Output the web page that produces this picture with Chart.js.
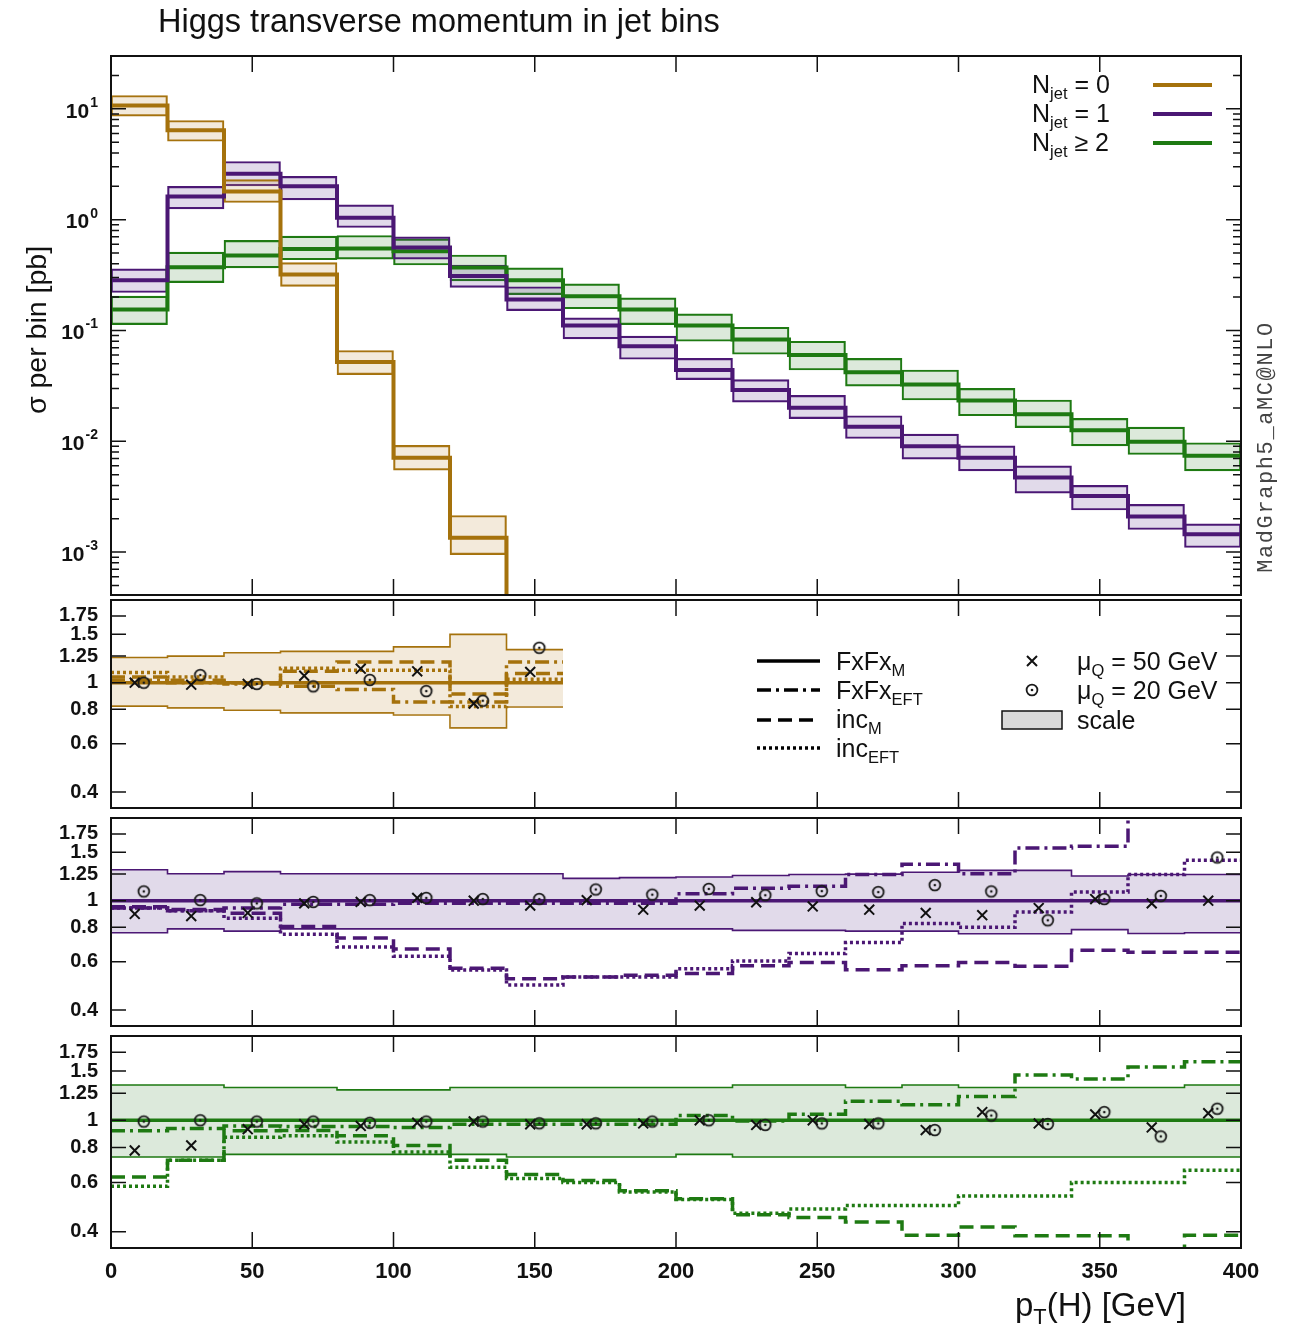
<!DOCTYPE html>
<html lang="en">
<head>
<meta charset="UTF-8">
<title>Higgs transverse momentum in jet bins</title>
<script src="https://cdn.jsdelivr.net/npm/chart.js@4.4.1/dist/chart.umd.min.js"></script>
<style>
  body { margin: 0; background: #fff; }
  #page { position: relative; width: 1298px; height: 1343px; overflow: hidden;
          font-family: "Liberation Sans", Arial, sans-serif; color: #111; }
  #page canvas { position: absolute; left: 0; }
  .lbl { position: absolute; white-space: nowrap; line-height: 1; }
  .lbl sub { font-size: 0.66em; vertical-align: -0.38em; line-height: 0; }
  #keys { position: absolute; left: 0; top: 0; }
</style>
</head>
<body>
<div id="page">
  <canvas id="panelTop" width="1298" height="579" style="top:36px"></canvas>
  <canvas id="panelJ0" width="1298" height="258" style="top:575px"></canvas>
  <canvas id="panelJ1" width="1298" height="258" style="top:793px"></canvas>
  <canvas id="panelJ2" width="1298" height="297" style="top:1011px"></canvas>
  <svg id="keys" width="1298" height="1343"></svg>

  <div class="lbl" style="left:158px; top:5px; font-size:32.5px">Higgs transverse momentum in jet bins</div>
  <div class="lbl" style="left:36px; top:330px; font-size:28.5px; transform:translate(-50%,-50%) rotate(-90deg)">σ per bin [pb]</div>
  <div class="lbl" style="left:1015px; top:1288px; font-size:33px">p<sub>T</sub>(H) [GeV]</div>
  <div class="lbl" style="left:1267px; top:447px; font-family:'Liberation Mono',monospace; font-size:22px; letter-spacing:1.6px; color:#444; transform:translate(-50%,-50%) rotate(-90deg)">MadGraph5_aMC@NLO</div>

  <!-- jet multiplicity key -->
  <div class="lbl" style="left:1032px; top:72px; font-size:25px">N<sub>jet</sub> = 0</div>
  <div class="lbl" style="left:1032px; top:101px; font-size:25px">N<sub>jet</sub> = 1</div>
  <div class="lbl" style="left:1032px; top:130px; font-size:25px">N<sub>jet</sub> ≥ 2</div>

  <!-- ratio key -->
  <div class="lbl" style="left:836px; top:649px; font-size:25px">FxFx<sub>M</sub></div>
  <div class="lbl" style="left:836px; top:678px; font-size:25px">FxFx<sub>EFT</sub></div>
  <div class="lbl" style="left:836px; top:707px; font-size:25px">inc<sub>M</sub></div>
  <div class="lbl" style="left:836px; top:736px; font-size:25px">inc<sub>EFT</sub></div>
  <div class="lbl" style="left:1077px; top:649px; font-size:25px">μ<sub>Q</sub> = 50 GeV</div>
  <div class="lbl" style="left:1077px; top:678px; font-size:25px">μ<sub>Q</sub> = 20 GeV</div>
  <div class="lbl" style="left:1077px; top:708px; font-size:25px">scale</div>
</div>

<script>
// pT(H) bins [GeV]
const binEdges = [0, 20, 40, 60, 80, 100, 120, 140, 160, 180, 200, 220, 240, 260, 280, 300, 320, 340, 360, 380, 400];
const xTickValues = [0, 50, 100, 150, 200, 250, 300, 350, 400];
const topTickValues = [0.001, 0.01, 0.1, 1, 10];
const ratioTickValues = [0.4, 0.6, 0.8, 1, 1.25, 1.5, 1.75];

// sigma per bin [pb], central / scale band
const njet0Central = [10.7, 6.4, 1.8, 0.32, 0.052, 0.0071, 0.00135, 0.00001]; // last bin below the plotted range
const njet0Upper = [13.2, 7.85, 2.3, 0.41, 0.066, 0.0092, 0.00214];
const njet0Lower = [8.6, 5.1, 1.43, 0.25, 0.040, 0.0055, 0.00095];

const njet1Central = [0.284, 1.62, 2.6, 2.0, 1.04, 0.56, 0.31, 0.19, 0.111, 0.072, 0.044, 0.029, 0.0201, 0.0135, 0.0090, 0.0071, 0.0047, 0.0032, 0.0021, 0.00145];
const njet1Upper = [0.36, 2.0, 3.35, 2.46, 1.36, 0.70, 0.39, 0.248, 0.13, 0.089, 0.056, 0.036, 0.026, 0.017, 0.0116, 0.0091, 0.0060, 0.0040, 0.0027, 0.0018];
const njet1Lower = [0.22, 1.25, 2.02, 1.51, 0.85, 0.44, 0.245, 0.151, 0.084, 0.055, 0.036, 0.0226, 0.016, 0.0106, 0.0069, 0.0054, 0.0034, 0.0024, 0.0016, 0.0011];

const njet2Central = [0.155, 0.372, 0.474, 0.545, 0.55, 0.52, 0.37, 0.284, 0.204, 0.155, 0.111, 0.083, 0.060, 0.042, 0.0326, 0.0233, 0.0175, 0.0126, 0.0099, 0.0074];
const njet2Upper = [0.204, 0.51, 0.65, 0.71, 0.72, 0.67, 0.48, 0.367, 0.263, 0.197, 0.141, 0.107, 0.080, 0.056, 0.044, 0.030, 0.0236, 0.0161, 0.0134, 0.0097];
const njet2Lower = [0.113, 0.27, 0.367, 0.435, 0.44, 0.39, 0.28, 0.211, 0.157, 0.113, 0.080, 0.061, 0.044, 0.0315, 0.0236, 0.017, 0.0133, 0.0091, 0.0076, 0.0054];

// ratios to FxFx_M, Njet = 0 (first 8 bins only)
const r0BandUp = [1.236, 1.25, 1.286, 1.30, 1.30, 1.35, 1.50, 1.32];
const r0BandLo = [0.822, 0.81, 0.794, 0.777, 0.777, 0.763, 0.685, 0.816];
const r0FxFxM = [1, 1, 1, 1, 1, 1, 1, 1];
const r0FxFxEFT = [1.02, 1.0, 0.99, 0.97, 0.945, 0.85, 0.85, 1.19];
const r0IncM = [1.05, 1.02, 1.0, 1.1, 1.19, 1.19, 0.91, 1.08];
const r0IncEFT = [1.09, 1.05, 1.0, 1.13, 1.11, 1.11, 0.82, 1.03];
const r0Mu50 = [1.0, 0.984, 0.99, 1.06, 1.125, 1.10, 0.84, 1.095];
const r0Mu20 = [1.0, 1.066, 0.99, 0.97, 1.024, 0.932, 0.86, 1.34];

// ratios, Njet = 1
const r1BandUp = [1.297, 1.253, 1.276, 1.253, 1.253, 1.253, 1.253, 1.253, 1.206, 1.213, 1.22, 1.235, 1.246, 1.25, 1.27, 1.29, 1.29, 1.23, 1.246, 1.246];
const r1BandLo = [0.765, 0.79, 0.775, 0.79, 0.79, 0.79, 0.79, 0.79, 0.79, 0.79, 0.79, 0.78, 0.78, 0.775, 0.775, 0.758, 0.758, 0.785, 0.76, 0.765];
const r1FxFxM = [1, 1, 1, 1, 1, 1, 1, 1, 1, 1, 1, 1, 1, 1, 1, 1, 1, 1, 1, 1];
const r1FxFxEFT = [0.94, 0.92, 0.94, 0.97, 0.97, 0.98, 0.98, 0.98, 0.98, 0.98, 1.06, 1.11, 1.128, 1.246, 1.358, 1.253, 1.557, 1.58, 2.5, 2.5];
const r1IncM = [0.95, 0.93, 0.90, 0.805, 0.732, 0.667, 0.568, 0.52, 0.528, 0.535, 0.543, 0.58, 0.596, 0.561, 0.58, 0.596, 0.577, 0.66, 0.65, 0.65];
const r1IncEFT = [0.94, 0.92, 0.863, 0.755, 0.678, 0.628, 0.56, 0.494, 0.528, 0.528, 0.565, 0.604, 0.642, 0.704, 0.826, 0.80, 0.91, 1.075, 1.246, 1.405];
const r1Mu50 = [0.895, 0.879, 0.903, 0.978, 0.99, 1.024, 1.0, 0.96, 1.005, 0.928, 0.96, 0.987, 0.953, 0.928, 0.903, 0.886, 0.94, 1.014, 0.978, 1.0];
const r1Mu20 = [1.081, 1.005, 0.978, 0.99, 1.005, 1.024, 1.014, 1.014, 1.099, 1.052, 1.104, 1.047, 1.084, 1.075, 1.14, 1.081, 0.849, 1.014, 1.041, 1.437];

// ratios, Njet >= 2
const r2BandUp = [1.336, 1.336, 1.31, 1.31, 1.284, 1.284, 1.31, 1.31, 1.31, 1.31, 1.31, 1.336, 1.336, 1.31, 1.336, 1.31, 1.31, 1.31, 1.31, 1.336];
const r2BandLo = [0.74, 0.74, 0.756, 0.756, 0.756, 0.756, 0.756, 0.74, 0.74, 0.74, 0.756, 0.74, 0.74, 0.74, 0.74, 0.74, 0.74, 0.74, 0.74, 0.74];
const r2FxFxM = [1, 1, 1, 1, 1, 1, 1, 1, 1, 1, 1, 1, 1, 1, 1, 1, 1, 1, 1, 1];
const r2FxFxEFT = [0.918, 0.935, 0.955, 0.95, 0.95, 0.943, 0.968, 0.968, 0.968, 0.968, 1.04, 0.995, 1.05, 1.17, 1.137, 1.216, 1.45, 1.405, 1.55, 1.62];
const r2IncM = [0.627, 0.72, 0.918, 0.92, 0.88, 0.813, 0.72, 0.64, 0.61, 0.56, 0.525, 0.46, 0.45, 0.433, 0.389, 0.416, 0.387, 0.387, 0.3, 0.389];
const r2IncEFT = [0.582, 0.72, 0.87, 0.88, 0.836, 0.77, 0.68, 0.62, 0.60, 0.555, 0.522, 0.466, 0.482, 0.496, 0.496, 0.537, 0.537, 0.60, 0.60, 0.663];
const r2Mu50 = [0.78, 0.813, 0.93, 0.968, 0.955, 0.98, 0.99, 0.968, 0.968, 0.975, 1.0, 0.963, 1.0, 0.97, 0.923, 1.07, 0.975, 1.05, 0.943, 1.06];
const r2Mu20 = [0.99, 1.0, 0.99, 0.99, 0.98, 0.99, 0.99, 0.976, 0.976, 0.99, 1.0, 0.963, 0.975, 0.975, 0.923, 1.04, 0.97, 1.07, 0.876, 1.10];

const colors = {
  j0: { line: '#a5720c', fill: 'rgba(200, 160, 90, 0.22)' },
  j1: { line: '#4b1774', fill: 'rgba(90, 50, 140, 0.18)' },
  j2: { line: '#1e7a12', fill: 'rgba(40, 120, 30, 0.16)' }
};
const dashEFT = [14, 5, 3, 5];
const dashIncM = [14, 7];
const dashIncEFT = [3, 3];
const markerShift = 1.6; // GeV, the two mu_Q markers sit either side of the bin centre

Chart.defaults.font.family = '"Liberation Sans", Arial, sans-serif';
Chart.defaults.color = '#111';
Chart.defaults.animation = false;

// helpers turning bin values into chart points
function steps(values) {
  const pts = values.map((v, i) => ({ x: binEdges[i], y: v }));
  pts.push({ x: binEdges[values.length], y: values[values.length - 1] });
  return pts;
}
function boxes(lo, hi) {
  return lo.map((v, i) => ({ x: (binEdges[i] + binEdges[i + 1]) / 2, y: [v, hi[i]] }));
}
function markers(values, shift) {
  return values.map((v, i) => ({ x: (binEdges[i] + binEdges[i + 1]) / 2 + shift, y: v }));
}

// circle-with-dot marker
const odot = document.createElement('canvas');
odot.width = 16; odot.height = 16;
(function () {
  const g = odot.getContext('2d');
  g.strokeStyle = '#1a1a1a'; g.lineWidth = 1.8;
  g.beginPath(); g.arc(8, 8, 5.4, 0, Math.PI * 2); g.stroke();
  g.fillStyle = '#1a1a1a';
  g.beginPath(); g.arc(8, 8, 1.3, 0, Math.PI * 2); g.fill();
})();

// frame + inward tick marks, gnuplot style
const frameTicks = {
  id: 'frameTicks',
  afterDatasetsDraw(chart, args, opts) {
    const { ctx, chartArea: a, scales: { x, y } } = chart;
    ctx.save();
    ctx.strokeStyle = '#111';
    ctx.lineWidth = 1.5;
    ctx.beginPath();
    xTickValues.forEach(v => {
      const px = x.getPixelForValue(v);
      ctx.moveTo(px, a.top); ctx.lineTo(px, a.top + 16);
      ctx.moveTo(px, a.bottom); ctx.lineTo(px, a.bottom - 16);
    });
    opts.major.forEach(v => {
      const py = y.getPixelForValue(v);
      ctx.moveTo(a.left, py); ctx.lineTo(a.left + 15, py);
      ctx.moveTo(a.right, py); ctx.lineTo(a.right - 15, py);
    });
    (opts.minor || []).forEach(v => {
      const py = y.getPixelForValue(v);
      ctx.moveTo(a.left, py); ctx.lineTo(a.left + 8, py);
      ctx.moveTo(a.right, py); ctx.lineTo(a.right - 8, py);
    });
    ctx.stroke();
    ctx.lineWidth = 2;
    ctx.strokeRect(a.left, a.top, a.right - a.left, a.bottom - a.top);
    ctx.restore();
  }
};

// 10^n labels for the top panel
const powerLabels = {
  id: 'powerLabels',
  afterDraw(chart) {
    const { ctx, scales: { y } } = chart;
    ctx.save();
    ctx.fillStyle = '#111';
    ctx.textAlign = 'right';
    ctx.textBaseline = 'middle';
    topTickValues.forEach(v => {
      const py = y.getPixelForValue(v);
      const exp = String(Math.round(Math.log10(v)));
      ctx.font = 'bold 14px "Liberation Sans"';
      const w = ctx.measureText(exp).width;
      ctx.fillText(exp, 98, py - 6);
      ctx.font = 'bold 21px "Liberation Sans"';
      ctx.fillText('10', 97 - w, py + 3);
    });
    ctx.restore();
  }
};

function xAxis(show) {
  const ax = {
    type: 'linear', min: 0, max: 400, offset: false, display: show,
    grid: { display: false, drawTicks: false }, border: { display: false },
    afterBuildTicks: s => { s.ticks = xTickValues.map(v => ({ value: v })); },
    ticks: { autoSkip: false, maxRotation: 0, padding: 11, font: { size: 22, weight: 'bold' }, callback: v => String(v) }
  };
  if (show) ax.afterFit = s => { s.height = 40; };
  return ax;
}

function ratioAxis() {
  return {
    type: 'logarithmic', min: 0.35, max: 2.0,
    grid: { display: false, drawTicks: false }, border: { display: false },
    afterBuildTicks: s => { s.ticks = ratioTickValues.map(v => ({ value: v })); },
    ticks: { autoSkip: false, padding: 13, font: { size: 20, weight: 'bold' }, callback: v => String(v) },
    afterFit: s => { s.width = 111; }
  };
}

function baseOptions(scales, frameOpts) {
  return {
    responsive: false,
    events: [],
    layout: { padding: { top: 20, bottom: 20, left: 0, right: 57 } },
    scales: scales,
    plugins: { legend: { display: false }, tooltip: { enabled: false }, frameTicks: frameOpts }
  };
}

// ---- top panel: sigma per bin ----
function band(lo, hi, c) {
  return { type: 'bar', data: boxes(lo, hi), backgroundColor: c.fill, borderColor: c.line, borderWidth: 1.5,
           borderSkipped: false, grouped: false, barPercentage: 1, categoryPercentage: 1, order: 3 };
}
function central(values, c) {
  return { type: 'line', data: steps(values), stepped: 'before', borderColor: c.line, borderWidth: 4,
           pointRadius: 0, fill: false, clip: 0, order: 1 };
}

const topMin = 4.1e-4, topMax = 30;
const topMinor = [];
topTickValues.concat([100]).forEach(d => {
  [2, 3, 4, 5, 6, 7, 8, 9].forEach(k => {
    const v = d / 10 * k;
    if (v > topMin && v < topMax) topMinor.push(v);
  });
});

new Chart(document.getElementById('panelTop'), {
  type: 'line',
  data: {
    datasets: [
      band(njet0Lower, njet0Upper, colors.j0),
      band(njet1Lower, njet1Upper, colors.j1),
      band(njet2Lower, njet2Upper, colors.j2),
      central(njet0Central, colors.j0),
      central(njet1Central, colors.j1),
      central(njet2Central, colors.j2)
    ]
  },
  options: baseOptions({
    x: xAxis(false),
    y: {
      type: 'logarithmic', min: topMin, max: topMax,
      grid: { display: false, drawTicks: false }, border: { display: false },
      ticks: { display: false },
      afterFit: s => { s.width = 111; }
    }
  }, { major: topTickValues, minor: topMinor }),
  plugins: [frameTicks, powerLabels]
});

// ---- ratio panels ----
function styled(values, color, dash) {
  return { data: steps(values), stepped: 'before', borderColor: color, borderWidth: 3.5, borderDash: dash,
           pointRadius: 0, fill: false, clip: 0, order: 2 };
}
function ratioDatasets(c, up, lo, fxM, fxEFT, incM, incEFT, mu50, mu20) {
  return [
    { data: steps(up), stepped: 'before', borderColor: c.line, borderWidth: 1.6, backgroundColor: c.fill,
      fill: '+1', pointRadius: 0, clip: 0, order: 4 },
    { data: steps(lo), stepped: 'before', borderColor: c.line, borderWidth: 1.6, pointRadius: 0,
      fill: false, clip: 0, order: 4 },
    styled(fxM, c.line, []),
    styled(fxEFT, c.line, dashEFT),
    styled(incM, c.line, dashIncM),
    styled(incEFT, c.line, dashIncEFT),
    { data: markers(mu50, -markerShift), showLine: false, pointStyle: 'crossRot', pointRadius: 7,
      borderColor: '#111', borderWidth: 2, order: 0 },
    { data: markers(mu20, markerShift), showLine: false, pointStyle: odot, pointRadius: 6, order: 0 }
  ];
}

function ratioChart(id, showX, datasets) {
  return new Chart(document.getElementById(id), {
    type: 'line',
    data: { datasets: datasets },
    options: baseOptions({ x: xAxis(showX), y: ratioAxis() }, { major: ratioTickValues }),
    plugins: [frameTicks]
  });
}

ratioChart('panelJ0', false, ratioDatasets(colors.j0, r0BandUp, r0BandLo, r0FxFxM, r0FxFxEFT, r0IncM, r0IncEFT, r0Mu50, r0Mu20));
ratioChart('panelJ1', false, ratioDatasets(colors.j1, r1BandUp, r1BandLo, r1FxFxM, r1FxFxEFT, r1IncM, r1IncEFT, r1Mu50, r1Mu20));
ratioChart('panelJ2', true, ratioDatasets(colors.j2, r2BandUp, r2BandLo, r2FxFxM, r2FxFxEFT, r2IncM, r2IncEFT, r2Mu50, r2Mu20));

// legend samples
document.getElementById('keys').innerHTML = `
  <line x1="1153" x2="1212" y1="85" y2="85" stroke="${colors.j0.line}" stroke-width="4"/>
  <line x1="1153" x2="1212" y1="114" y2="114" stroke="${colors.j1.line}" stroke-width="4"/>
  <line x1="1153" x2="1212" y1="143" y2="143" stroke="${colors.j2.line}" stroke-width="4"/>
  <line x1="757" x2="820" y1="661" y2="661" stroke="#000" stroke-width="3.5"/>
  <line x1="757" x2="820" y1="690" y2="690" stroke="#000" stroke-width="3.5" stroke-dasharray="${dashEFT.join(' ')}"/>
  <line x1="757" x2="820" y1="720" y2="720" stroke="#000" stroke-width="3.5" stroke-dasharray="${dashIncM.join(' ')}"/>
  <line x1="757" x2="820" y1="748" y2="748" stroke="#000" stroke-width="3.5" stroke-dasharray="${dashIncEFT.join(' ')}"/>
  <path d="M1027 656 L1037 666 M1037 656 L1027 666" stroke="#111" stroke-width="2"/>
  <circle cx="1032" cy="690" r="5.4" fill="none" stroke="#1a1a1a" stroke-width="1.8"/>
  <circle cx="1032" cy="690" r="1.3" fill="#1a1a1a"/>
  <rect x="1002" y="711" width="60" height="18" fill="#d9d9d9" stroke="#111" stroke-width="1.5"/>
`;
</script>
</body>
</html>
